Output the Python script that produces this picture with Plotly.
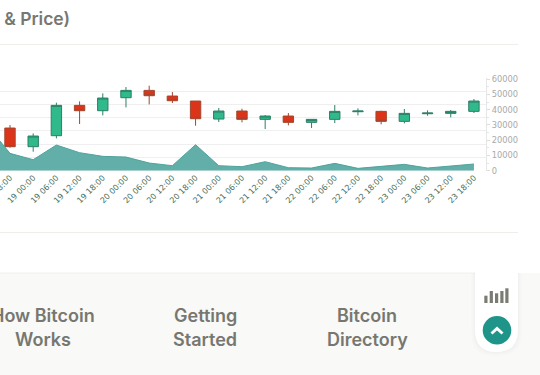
import plotly.graph_objects as go

W, H = 540, 375

categories = ["18 12:00", "18 18:00", "19 00:00", "19 06:00", "19 12:00", "19 18:00",
              "20 00:00", "20 06:00", "20 12:00", "20 18:00", "21 00:00", "21 06:00",
              "21 12:00", "21 18:00", "22 00:00", "22 06:00", "22 12:00", "22 18:00",
              "23 00:00", "23 06:00", "23 12:00", "23 18:00"]
opens = [24000, 27981, 15739, 22953, 42846, 39348, 47873, 52683, 48966, 45687, 33883, 39129,
         33664, 35850, 31697, 33664, 38692, 38911, 32353, 37381, 37599, 38911]
highs = [33000, 29948, 24483, 44594, 45469, 50715, 54869, 55743, 51590, 45687, 41097, 40660,
         36506, 37818, 33664, 43064, 40878, 39348, 40441, 39567, 39785, 47000]
lows = [22000, 15083, 12460, 21204, 30604, 36288, 41534, 43501, 44376, 29511, 31916, 31697,
        27325, 29730, 27981, 31260, 36288, 30385, 31041, 36069, 34976, 37818]
closes = [28000, 15739, 22734, 42846, 39348, 47655, 52683, 49185, 45906, 34102, 39129, 33664,
          35850, 31697, 33664, 38911, 39129, 32353, 37599, 37818, 38911, 45687]
volume = [30000, 11367, 7214, 16832, 11804, 9400, 8963, 5028, 3279, 17051, 3279, 2623,
          5902, 1967, 1749, 4809, 1530, 2623, 4153, 1749, 3279, 4372]
y_tick_vals = [0, 10000, 20000, 30000, 40000, 50000, 60000]
grid_steps = [0, 1, 2, 3, 4, 5, 6, 7]
icon_bars = [(484.3, 295.7), (489.7, 291), (495, 293.3), (500.3, 291), (505.3, 288.3)]


def px(x):
    return x / W


def py(y):
    return 1 - y / H


PLOT_R, PLOT_T, PLOT_B = 486, 78, 170.7
TEXT = "#777771"
GRID = "#efefef"

fig = go.Figure()
fig.add_trace(go.Scatter(
    x=categories, y=volume, mode="lines", fill="tozeroy",
    line=dict(color="#4fa39c", width=1), fillcolor="#62aea8",
    yaxis="y", xaxis="x", hoverinfo="skip", showlegend=False))
fig.add_trace(go.Candlestick(
    x=categories, open=opens, high=highs, low=lows, close=closes,
    increasing=dict(fillcolor="#30b98b", line=dict(color="#2c7f68", width=1)),
    decreasing=dict(fillcolor="#dc3419", line=dict(color="#a0472f", width=1)),
    whiskerwidth=0, yaxis="y", xaxis="x", showlegend=False))
# an invisible trace keeps the grid axis alive
fig.add_trace(go.Scatter(x=categories[:1], y=grid_steps[:1], yaxis="y2", xaxis="x", mode="markers",
                         marker=dict(opacity=0), hoverinfo="skip", showlegend=False))

shapes = [
    dict(type="rect", xref="paper", yref="paper", x0=0, x1=1, y0=0, y1=py(273),
         fillcolor="#f9f9f7", line_width=0, layer="below"),
    dict(type="line", xref="paper", yref="paper", x0=0, x1=px(518), y0=py(273), y1=py(273),
         line=dict(color="#f0f0ee", width=1), layer="below"),
    dict(type="line", xref="paper", yref="paper", x0=0, x1=px(518), y0=py(44.5), y1=py(44.5),
         line=dict(color="#eeeeea", width=1), layer="below"),
    dict(type="line", xref="paper", yref="paper", x0=0, x1=px(518), y0=py(232.5), y1=py(232.5),
         line=dict(color="#eeeeea", width=1), layer="below"),
]


def rounded_card(x0, x1, y0, y1, r):
    s = "M%.4f,%.4f L%.4f,%.4f L%.4f,%.4f" % (px(x0), py(y0), px(x1), py(y0), px(x1), py(y1 - r))
    s += " Q%.4f,%.4f %.4f,%.4f" % (px(x1), py(y1), px(x1 - r), py(y1))
    s += " L%.4f,%.4f" % (px(x0 + r), py(y1))
    s += " Q%.4f,%.4f %.4f,%.4f Z" % (px(x0), py(y1), px(x0), py(y1 - r))
    return s


for grow, col in ((4, "rgba(0,0,0,0.008)"), (2.5, "rgba(0,0,0,0.01)"), (1.2, "rgba(0,0,0,0.012)")):
    shapes.append(dict(type="path", xref="paper", yref="paper",
                       path=rounded_card(475 - grow, 518 + grow, 273, 352 + grow, 22),
                       fillcolor=col, line_width=0, layer="below"))
shapes.append(dict(type="path", xref="paper", yref="paper",
                   path=rounded_card(475, 518, 272, 352, 22),
                   fillcolor="#ffffff", line_width=0, layer="below"))
for x0, top in icon_bars:
    shapes.append(dict(type="rect", xref="paper", yref="paper", x0=px(x0), x1=px(x0 + 3.2),
                       y0=py(303), y1=py(top), fillcolor="#7b7b74", line_width=0))
shapes.append(dict(type="circle", xref="paper", yref="paper", x0=px(482.7), x1=px(511.3),
                   y0=py(344.5), y1=py(316), fillcolor="#1f9488", line_width=0))
shapes.append(dict(type="path", xref="paper", yref="paper",
                   path="M%.4f,%.4f L%.4f,%.4f L%.4f,%.4f" % (px(491.5), py(333.5), px(497), py(328.5), px(502.5), py(333.5)),
                   line=dict(color="#ffffff", width=3)))

annotations = []


def label(text, x, y, anchor="center", size=18):
    annotations.append(dict(text=text, xref="paper", yref="paper", x=px(x), y=py(y),
                            xanchor=anchor, yanchor="middle", showarrow=False,
                            font=dict(family="Inter, Liberation Sans", size=size, color=TEXT, weight=600)))


label("Volume &amp; Price)", 72, 19, "right", 17.5)
label("How Bitcoin", 43, 315)
label("Works", 43, 339.5)
label("Getting", 205, 315)
label("Started", 205, 339.5)
label("Bitcoin", 367, 315)
label("Directory", 367, 339.5)

fig.update_layout(
    width=W, height=H, autosize=False,
    margin=dict(l=0, r=0, t=0, b=0), paper_bgcolor="#ffffff", plot_bgcolor="rgba(0,0,0,0)",
    showlegend=False, boxgap=0.36, shapes=shapes, annotations=annotations,
    xaxis=dict(type="category", categoryorder="array", categoryarray=categories,
               domain=[0, px(PLOT_R)], range=[0.569, 21.52], rangeslider=dict(visible=False),
               tickmode="linear", tick0=0, dtick=1, tickangle=-45, ticks="", showgrid=False,
               showline=False, zeroline=False, automargin=False,
               tickfont=dict(family="DejaVu Sans", size=8, color="#446e5a")),
    yaxis=dict(domain=[py(PLOT_B), py(PLOT_T)], range=[0, 60800], side="right", anchor="x",
               tickvals=y_tick_vals, tickformat="d", showgrid=False, zeroline=False,
               showline=True, linecolor="#e6e6e6", linewidth=1, ticks="outside", ticklen=3,
               tickcolor="#dddddd", automargin=False,
               minor=dict(dtick=5000, ticks="outside", ticklen=2, tickcolor="#e4e4e4"),
               tickfont=dict(family="DejaVu Sans", size=8.3, color="#aaaaaa")),
    yaxis2=dict(domain=[py(PLOT_B), py(PLOT_T)], range=[0, 7], overlaying="y", side="left",
                anchor="x", tickvals=grid_steps, showticklabels=False, showgrid=True,
                gridcolor=GRID, gridwidth=1, zeroline=False, ticks="", showline=False),
)

fig.write_html("out.html", config=dict(displayModeBar=False),
               post_script="document.body.style.margin='0';document.documentElement.style.overflow='hidden';")
